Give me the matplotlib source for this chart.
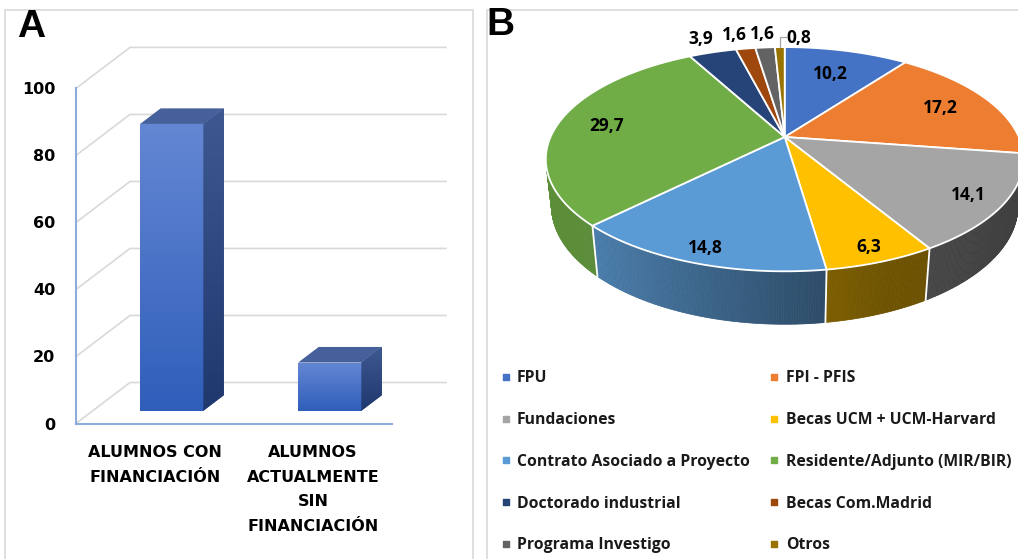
import numpy as np
import matplotlib
matplotlib.use("Agg")
import matplotlib.pyplot as plt
from matplotlib.patches import Polygon, Rectangle
from matplotlib.collections import PolyCollection
from matplotlib.colors import to_rgb, LinearSegmentedColormap

# ---- panel A data
bar_labels = ["ALUMNOS CON\nFINANCIACIÓN", "ALUMNOS\nACTUALMENTE\nSIN\nFINANCIACIÓN"]
bar_values = [85.6, 14.4]
y_ticks = [0, 20, 40, 60, 80, 100]

# ---- panel B data
pie_labels = ["FPU", "FPI - PFIS", "Fundaciones", "Becas UCM + UCM-Harvard",
              "Contrato Asociado a Proyecto", "Residente/Adjunto (MIR/BIR)",
              "Doctorado industrial", "Becas Com.Madrid", "Programa Investigo", "Otros"]
pie_values = [10.2, 17.2, 14.1, 6.3, 14.8, 29.7, 3.9, 1.6, 1.6, 0.8]
pie_colors = ["#4472C4", "#ED7D31", "#A5A5A5", "#FFC000", "#5B9BD5",
              "#70AD47", "#264478", "#9E480E", "#636363", "#997300"]

W, H = 1018, 559
plt.rcParams['font.family'] = 'DejaVu Sans'
fig = plt.figure(figsize=(W / 100, H / 100), dpi=100)


def px_rect(x0, y0, x1, y1):
    # pixel box (y measured from top) -> figure fraction
    return [x0 / W, 1 - y1 / H, (x1 - x0) / W, (y1 - y0) / H]


# panel frames
for x0, x1 in [(5, 473), (487, 1040)]:
    fig.add_artist(Rectangle((x0 / W, -0.05), (x1 - x0) / W, 1.05 - 10 / H,
                             transform=fig.transFigure, fill=False,
                             ec='#d9d9d9', lw=1.2, clip_on=False))
fig.text(31 / W, 1 - 27 / H, "A", fontsize=28, weight='bold',
         family='Liberation Sans', ha='center', va='center')
fig.text(500 / W, 1 - 25 / H, "B", fontsize=28, weight='bold',
         family='Liberation Sans', ha='center', va='center')

# ================= panel A: fake 3D column chart
ax_a = fig.add_axes(px_rect(76, 88.4, 392, 423.5))
DX = 54 / 158            # depth offset in data units (x)
DY = 41 * 100 / 335.1    # depth offset in data units (y)

for t in y_ticks:
    ax_a.plot([0, DX, 2 + DX], [t, t + DY, t + DY], color='#d9d9d9', lw=1.2,
              clip_on=False, zorder=1)

xs = np.arange(len(bar_values)) + 0.5
bw = 0.4
d0, d1 = 0.31, 0.69
front_cmap = LinearSegmentedColormap.from_list('front', ['#2f5eba', '#6487d3'])
side_cmap = LinearSegmentedColormap.from_list('side', ['#1f386e', '#3e5891'])
grad = np.linspace(0, 1, 256).reshape(-1, 1)

for x, v in zip(xs, bar_values):
    ox, oy = d0 * DX, d0 * DY
    dx, dy = (d1 - d0) * DX, (d1 - d0) * DY
    xl, xr = x + ox - bw / 2, x + ox + bw / 2
    bar = ax_a.bar(x + ox, v, width=bw, bottom=oy, color='#4472C4', zorder=3)[0]
    im = ax_a.imshow(grad, cmap=front_cmap, origin='lower', aspect='auto',
                     extent=(xl, xr, oy, oy + v), zorder=3.1)
    im.set_clip_path(bar)
    top = Polygon([(xl, oy + v), (xr, oy + v), (xr + dx, oy + v + dy), (xl + dx, oy + v + dy)],
                  closed=True, fc='#46609b', ec='none', zorder=3)
    side = Polygon([(xr, oy), (xr + dx, oy + dy), (xr + dx, oy + v + dy), (xr, oy + v)],
                   closed=True, fc='#2e4a80', ec='none', zorder=3)
    ax_a.add_patch(top)
    ax_a.add_patch(side)
    im2 = ax_a.imshow(grad, cmap=side_cmap, origin='lower', aspect='auto',
                      extent=(xr, xr + dx, oy, oy + v + dy), zorder=3.1)
    im2.set_clip_path(side)

ax_a.set_xlim(0, 2)
ax_a.set_ylim(0, 100)
ax_a.set_aspect('auto')
for s in ['top', 'right']:
    ax_a.spines[s].set_visible(False)
for s in ['left', 'bottom']:
    ax_a.spines[s].set_color('#8faadc')
    ax_a.spines[s].set_linewidth(1.5)
ax_a.set_yticks(y_ticks)
ax_a.set_xticks(xs, bar_labels)
ax_a.tick_params(axis='y', length=0, pad=15, labelsize=11.5)
ax_a.tick_params(axis='x', length=0, pad=15.5, labelsize=11.5)
for lab in ax_a.get_yticklabels():
    lab.set_fontweight('bold')
for lab in ax_a.get_xticklabels():
    lab.set_fontweight('bold')
    lab.set_linespacing(1.8)
    lab.set_multialignment('center')

# ================= panel B: 3D pie with perspective
CX, CY = 784.7, 137.0    # apex in pixels
ax_b = fig.add_axes([480 / W, 0, 538 / W, 1])
ax_b.set_xlim(480 - CX, W - CX)
ax_b.set_ylim(CY - H, CY)
ax_b.axis('off')

F, D, S = 1050.0, 4.484, 0.46
C = np.sqrt(1 - S ** 2)
TH = 0.225


def project(r, theta, z=0.0):
    x = r * np.sin(theta)
    y = r * np.cos(theta)
    depth = D + y * C - z * S
    return F * x / depth, F * (y * S + z * C) / depth


vals = np.array(pie_values)
bounds = np.concatenate([[0], np.cumsum(vals) / vals.sum() * 2 * np.pi])
mids = (bounds[:-1] + bounds[1:]) / 2

# side wall, only the part facing the viewer
t_start = np.arccos(-1 / (D * C))
t_end = 2 * np.pi - t_start
tt = np.linspace(t_start, t_end, 400)
shade_x = [-1, -0.75, 0.1, 0.35, 1]
shade_f = [0.82, 0.82, 0.5, 0.43, 0.38]
quads, qcols = [], []
for a, b in zip(tt[:-1], tt[1:]):
    m = (a + b) / 2
    k = min(np.searchsorted(bounds, m) - 1, len(vals) - 1)
    f = np.interp(np.sin(m), shade_x, shade_f)
    col = np.array(to_rgb(pie_colors[k])) * f
    p1, p2 = project(1, a), project(1, b)
    p3, p4 = project(1, b, -TH), project(1, a, -TH)
    quads.append([p1, p2, p3, p4])
    qcols.append(col)
ax_b.add_collection(PolyCollection(quads, facecolors=qcols, edgecolors=qcols,
                                   linewidths=0.5, zorder=1))
for bnd in bounds:
    if t_start < bnd < t_end:
        (x1, y1), (x2, y2) = project(1, bnd), project(1, bnd, -TH)
        ax_b.plot([x1, x2], [y1, y2], color='white', lw=1.3, zorder=2)

# top face
for k in range(len(vals)):
    th = np.linspace(bounds[k], bounds[k + 1], max(3, int(np.degrees(bounds[k + 1] - bounds[k])) + 2))
    px, py = project(1, th)
    ax_b.fill(np.concatenate([[0], px]), np.concatenate([[0], py]),
              fc=pie_colors[k], ec='white', lw=1.3, zorder=3)

# value labels
lab_font = dict(fontsize=12.5, weight='bold', family='Open Sans', color='black', zorder=5)
next_x = None
for k in range(len(vals) - 1, -1, -1):
    v, m = pie_values[k], mids[k]
    txt = f"{v:.1f}".replace('.', ',')
    if k == len(vals) - 1:
        ex, ey = project(1.0, m)
        ax_b.plot([ex, ex, ex + 6], [ey, ey + 10, ey + 10], color='#a6a6a6', lw=0.9, zorder=4)
        ax_b.text(ex + 7, ey + 10 - 6, txt, ha='left', va='baseline', **lab_font)
        next_x = ex + 7 + 4
    elif v < 5:
        lx, ly = project(1.2, m)
        if next_x is not None:
            lx = min(lx, next_x - 28)
        next_x = lx
        ax_b.text(lx, ly - 6, txt, ha='center', va='baseline', **lab_font)
    else:
        lx, ly = project(0.8 - 0.1 * np.cos(m), m)
        ax_b.text(lx, ly - 6, txt, ha='center', va='baseline', **lab_font)

# legend (two columns, row-wise order)
col_marker = [506, 774.4]
col_text = [516.7, 786]
for i, (lab, col) in enumerate(zip(pie_labels, pie_colors)):
    row, c = divmod(i, 2)
    yy = CY - (376.7 + row * 41.8)
    ax_b.scatter(col_marker[c] - CX, yy, marker='s', s=24, color=col, zorder=5, clip_on=False)
    ax_b.text(col_text[c] - CX, yy - 5.5, lab, ha='left', va='baseline', fontsize=11.3,
              weight='bold', family='Open Sans', color='#1a1a1a', clip_on=False)

fig.savefig("out.png", dpi=100)
